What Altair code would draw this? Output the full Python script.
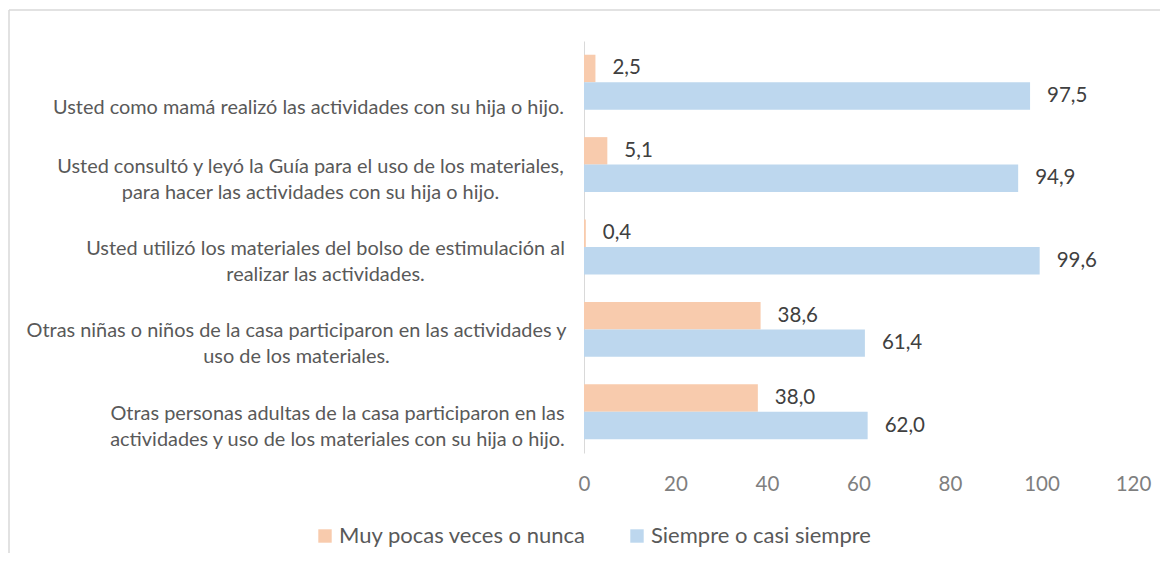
import json
import altair as alt
import pandas as pd

# ---- data ----
categories = [
    "Usted como mamá realizó las actividades con su hija o hijo.",
    "Usted consultó y leyó la Guía para el uso de los materiales,|para hacer las actividades con su hija o hijo.",
    "Usted utilizó los materiales del bolso de estimulación al|realizar las actividades.",
    "Otras niñas o niños de la casa participaron en las actividades y|uso de los materiales.",
    "Otras personas adultas de la casa participaron en las|actividades y uso de los materiales con su hija o hijo.",
]
series = ["Muy pocas veces o nunca", "Siempre o casi siempre"]
muy_pocas = [2.5, 5.1, 0.4, 38.6, 38.0]
siempre = [97.5, 94.9, 99.6, 61.4, 62.0]
x_ticks = [0, 20, 40, 60, 80, 100, 120]

# ---- styles ----
colors = ["#F8CBAD", "#BDD7EE"]
FONT = "Lato"
label_pad = [276, 274, 259, 288, 247]
label_off = [36, 12, 12, 12, 12]

rows = []
for c, a, b in zip(categories, muy_pocas, siempre):
    rows.append({"category": c, "serie": series[0], "value": a})
    rows.append({"category": c, "serie": series[1], "value": b})
df = pd.DataFrame(rows)

cond_pad = [{"test": f"datum.value == {json.dumps(c)}", "value": p} for c, p in zip(categories, label_pad)]
cond_off = [{"test": f"datum.value == {json.dumps(c)}", "value": o} for c, o in zip(categories, label_off)]

y_enc = alt.Y(
    "category:N",
    sort=categories,
    scale=alt.Scale(paddingInner=0.333, paddingOuter=0.1667),
    axis=alt.Axis(
        title=None,
        labelExpr="split(datum.label, '|')",
        labelFont=FONT,
        labelFontSize=19.9,
        labelColor="#595959",
        labelAlign="center",
        labelBaseline="bottom",
        labelLineHeight=26,
        labelOffset={"condition": cond_off, "value": 12},
        labelPadding={"condition": cond_pad, "value": 250},
        labelLimit=0,
        ticks=False,
        tickSize=0,
        domainColor="#d9d9d9",
        domainWidth=1,
        grid=False,
    ),
)
yoff_enc = alt.YOffset("serie:N", sort=series, scale=alt.Scale(paddingInner=0, paddingOuter=0))
x_enc = alt.X(
    "value:Q",
    scale=alt.Scale(domain=[0, 120], nice=False),
    axis=alt.Axis(
        values=x_ticks,
        title=None,
        grid=False,
        domain=False,
        ticks=False,
        tickSize=0,
        labelFlush=False,
        labelFont=FONT,
        labelFontSize=20.5,
        labelColor="#7f7f7f",
        labelPadding=21,
    ),
)

bars = alt.Chart(df).mark_bar().encode(
    y=y_enc,
    yOffset=yoff_enc,
    x=x_enc,
    color=alt.Color(
        "serie:N",
        scale=alt.Scale(domain=series, range=colors),
        legend=alt.Legend(
            title=None,
            orient="none",
            legendX=-270,
            legendY=484,
            direction="horizontal",
            columns=2,
            symbolType="square",
            symbolSize=180,
            symbolStrokeWidth=0,
            labelFont=FONT,
            labelFontSize=22,
            labelColor="#595959",
            labelOffset=3,
            columnPadding=40,
            labelLimit=0,
        ),
    ),
)

labels = alt.Chart(df).mark_text(
    align="left", baseline="middle", dx=17, font=FONT, fontSize=20.5, color="#404040"
).transform_calculate(
    lbl="replace(format(datum.value, '.1f'), '.', ',')"
).encode(
    y=y_enc,
    yOffset=yoff_enc,
    x=x_enc,
    text="lbl:N",
)

frame_df = pd.DataFrame({"k": [0]})
frame_left = alt.Chart(frame_df).mark_rule(color="#d9d9d9", strokeWidth=1.5).encode(
    x=alt.value(-575), y=alt.value(-31), y2=alt.value(700)
)
frame_top = alt.Chart(frame_df).mark_rule(color="#d9d9d9", strokeWidth=1.5).encode(
    x=alt.value(-575), x2=alt.value(700), y=alt.value(-31)
)

chart = alt.layer(bars, labels, frame_left, frame_top).properties(
    width=549,
    height=412,
    autosize="none",
    padding={"left": 576, "top": 33, "right": 27, "bottom": 100},
    background="white",
).configure_view(stroke=None)

chart.save("out.html", embed_options={"renderer": "svg", "actions": False})
